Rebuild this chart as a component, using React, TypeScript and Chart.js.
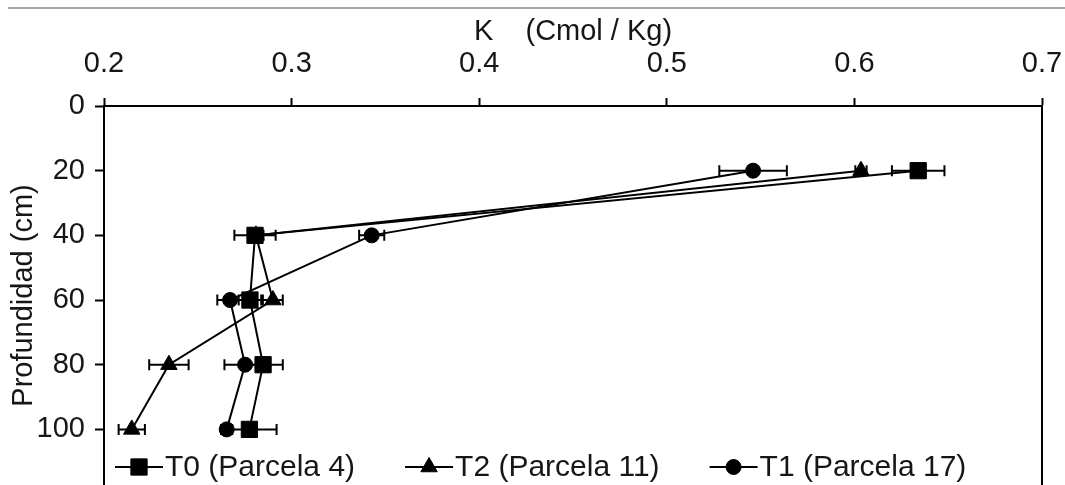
import React, { useEffect, useRef } from 'react';
import { Chart, registerables } from 'chart.js';

Chart.register(...registerables);

// ---- Data ----
const depths = [20, 40, 60, 80, 100];
const seriesNames = ['T0 (Parcela 4)', 'T2 (Parcela 11)', 'T1 (Parcela 17)'];
const t0Values = [0.634, 0.2805, 0.2778, 0.2848, 0.2775];
const t0Errors = [0.014, 0.011, 0.006, 0.0105, 0.0145];
const t2Values = [0.6035, 0.281, 0.29, 0.2346, 0.2148];
const t2Errors = [0.003, 0.004, 0.0053, 0.0105, 0.007];
const t1Values = [0.546, 0.3427, 0.2672, 0.2752, 0.2654];
const t1Errors = [0.018, 0.0067, 0.0068, 0.011, 0.003];
const xTickValues = [0.2, 0.3, 0.4, 0.5, 0.6, 0.7];
const yTickValues = [0, 20, 40, 60, 80, 100];
const xTitle = 'K    (Cmol / Kg)';
const yTitle = 'Profundidad (cm)';

const FONT = '"Liberation Sans", Arial, sans-serif';
const TEXT = '#161616';
const pointStyles = ['rect', 'triangle', 'circle'];
const pointRadii = [11.5, 9.5, 7.5];
const errorSets = [t0Errors, t2Errors, t1Errors];

function drawMarker(ctx: CanvasRenderingContext2D, style: string, r: number, x: number, y: number) {
  ctx.beginPath();
  if (style === 'rect') {
    const s = r * Math.SQRT1_2;
    ctx.rect(x - s, y - s, 2 * s, 2 * s);
  } else if (style === 'triangle') {
    let rad = 0;
    ctx.moveTo(x + Math.sin(rad) * r, y - Math.cos(rad) * r);
    rad += (2 * Math.PI) / 3;
    ctx.lineTo(x + Math.sin(rad) * r, y - Math.cos(rad) * r);
    rad += (2 * Math.PI) / 3;
    ctx.lineTo(x + Math.sin(rad) * r, y - Math.cos(rad) * r);
    ctx.closePath();
  } else {
    ctx.arc(x, y, r, 0, Math.PI * 2);
  }
  ctx.fill();
  ctx.stroke();
}

const errorBarPlugin = {
  id: 'errorBars',
  beforeDatasetsDraw(chart: any) {
    const { ctx, scales } = chart;
    const x = scales.x;
    const y = scales.y;
    ctx.save();
    ctx.strokeStyle = '#000';
    ctx.lineWidth = 2;
    chart.data.datasets.forEach((ds: any, i: number) => {
      const errs = errorSets[i];
      ds.data.forEach((p: any, j: number) => {
        const e = errs[j];
        const x1 = x.getPixelForValue(p.x - e);
        const x2 = x.getPixelForValue(p.x + e);
        const py = y.getPixelForValue(p.y);
        ctx.beginPath();
        ctx.moveTo(x1, py);
        ctx.lineTo(x2, py);
        ctx.moveTo(x1, py - 5.5);
        ctx.lineTo(x1, py + 5.5);
        ctx.moveTo(x2, py - 5.5);
        ctx.lineTo(x2, py + 5.5);
        ctx.stroke();
      });
    });
    ctx.restore();
  },
};

const decorPlugin = {
  id: 'decor',
  afterDraw(chart: any) {
    const { ctx, chartArea } = chart;
    ctx.save();
    // right border of the plot
    ctx.strokeStyle = '#000';
    ctx.lineWidth = 2;
    ctx.beginPath();
    ctx.moveTo(chartArea.right, chartArea.top);
    ctx.lineTo(chartArea.right, chartArea.bottom);
    ctx.stroke();
    // top gray rule
    ctx.fillStyle = '#a6a6a6';
    ctx.fillRect(8, 7, chart.width - 8, 2);
    // legend inside plot
    ctx.font = `30px ${FONT}`;
    ctx.textBaseline = 'middle';
    ctx.textAlign = 'left';
    const ly = chartArea.bottom - 18;
    let lx = chartArea.left + 11;
    seriesNames.forEach((name, i) => {
      ctx.strokeStyle = '#000';
      ctx.lineWidth = 2;
      ctx.beginPath();
      ctx.moveTo(lx, ly);
      ctx.lineTo(lx + 48, ly);
      ctx.stroke();
      ctx.fillStyle = '#000';
      ctx.lineWidth = 1;
      drawMarker(ctx, pointStyles[i], pointRadii[i], lx + 24, ly);
      ctx.fillStyle = TEXT;
      ctx.fillText(name, lx + 50, ly + 1);
      lx += 50 + ctx.measureText(name).width + 50;
    });
    ctx.restore();
  },
};

const zeroPad = (s: any) => {
  s.paddingLeft = 0;
  s.paddingRight = 0;
  s.paddingTop = 0;
  s.paddingBottom = 0;
};

export default function App() {
  const canvasRef = useRef<HTMLCanvasElement | null>(null);

  useEffect(() => {
    if (!canvasRef.current) return;
    const mk = (vals: number[]) => vals.map((v, i) => ({ x: v, y: depths[i] }));
    const valueSets = [t0Values, t2Values, t1Values];
    const chart = new Chart(canvasRef.current, {
      type: 'scatter',
      data: {
        datasets: valueSets.map((vals, i) => ({
          label: seriesNames[i],
          data: mk(vals),
          showLine: true,
          borderColor: '#000',
          backgroundColor: '#000',
          borderWidth: 2,
          pointStyle: pointStyles[i],
          pointRadius: pointRadii[i],
          pointBorderWidth: 1,
          pointBackgroundColor: '#000',
          pointBorderColor: '#000',
        })),
      },
      options: {
        animation: false,
        responsive: true,
        maintainAspectRatio: false,
        layout: { autoPadding: false, padding: { left: 0, top: 0, right: 23, bottom: 0 } },
        plugins: { legend: { display: false }, tooltip: { enabled: false } },
        scales: {
          x: {
            type: 'linear',
            position: 'top',
            min: 0.2,
            max: 0.7,
            afterBuildTicks: (s: any) => {
              s.ticks = xTickValues.map((v) => ({ value: v }));
            },
            afterFit: (s: any) => {
              s.height = 106;
              zeroPad(s);
            },
            ticks: {
              callback: (v: any) => Number(v).toFixed(1),
              font: { family: FONT, size: 29 },
              color: TEXT,
              padding: 17,
              maxRotation: 0,
              autoSkip: false,
            },
            grid: {
              display: true,
              drawOnChartArea: false,
              drawTicks: true,
              tickLength: 8,
              tickWidth: 2,
              tickColor: '#000',
            },
            border: { display: true, color: '#000', width: 2 },
            title: {
              display: true,
              text: xTitle,
              font: { family: FONT, size: 29 },
              color: TEXT,
              padding: { top: 15, bottom: 0 },
            },
          },
          y: {
            type: 'linear',
            reverse: true,
            min: 0,
            max: 117.2,
            afterBuildTicks: (s: any) => {
              s.ticks = yTickValues.map((v) => ({ value: v }));
            },
            afterFit: (s: any) => {
              s.width = 104;
              zeroPad(s);
            },
            ticks: {
              font: { family: FONT, size: 29 },
              color: TEXT,
              padding: 10,
              autoSkip: false,
            },
            grid: {
              display: true,
              drawOnChartArea: false,
              drawTicks: true,
              tickLength: 9,
              tickWidth: 2,
              tickColor: '#000',
            },
            border: { display: true, color: '#000', width: 2 },
            title: {
              display: true,
              text: yTitle,
              font: { family: FONT, size: 29 },
              color: TEXT,
              padding: { top: 7, bottom: 0 },
            },
          },
        },
      },
      plugins: [errorBarPlugin, decorPlugin],
    } as any);
    return () => chart.destroy();
  }, []);

  return (
    <div style={{ position: 'fixed', left: 0, top: 0, width: 1065, height: 485, background: '#fff' }}>
      <canvas ref={canvasRef} />
    </div>
  );
}
